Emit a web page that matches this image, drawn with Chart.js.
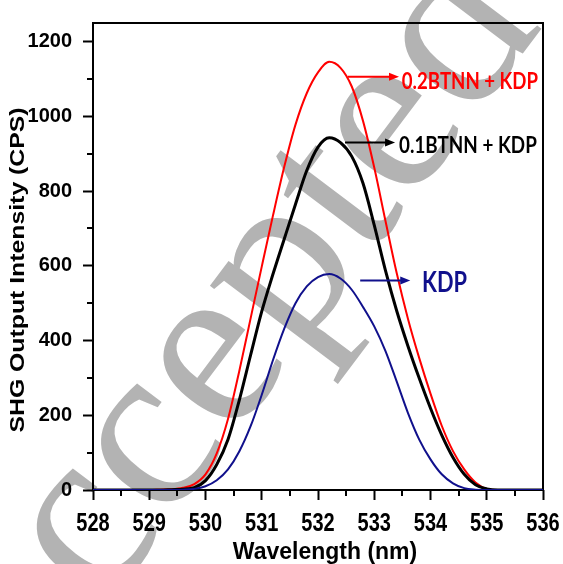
<!DOCTYPE html>
<html><head><meta charset="utf-8">
<script src="https://cdn.jsdelivr.net/npm/chart.js@4.4.1/dist/chart.umd.min.js"></script>
<style>html,body{margin:0;padding:0;background:#fff;overflow:hidden}canvas{display:block}</style>
</head><body>
<canvas id="c" width="563" height="564"></canvas>
<script>
// ---- data ----
const wavelengths = [528, 529.0, 529.2, 529.4, 529.6, 529.8, 530.0, 530.2, 530.4, 530.6, 530.8, 531.0, 531.2, 531.4, 531.6, 531.8, 532.0, 532.2, 532.4, 532.6, 532.8, 533.0, 533.2, 533.4, 533.6, 533.8, 534.0, 534.2, 534.4, 534.6, 534.8, 535.0, 535.2, 535.4, 536];
const intensity02BTNN = [0, 0, 1, 2, 6, 16, 42, 98, 190, 318, 458, 598, 735, 865, 978, 1062, 1118, 1146, 1130, 1080, 988, 863, 720, 580, 458, 353, 258, 172, 104, 55, 20, 3, 0, 0, 0];
const intensity01BTNN = [0, 0, 0, 1, 2, 6, 25, 68, 135, 240, 360, 478, 578, 672, 765, 855, 918, 943, 930, 893, 821, 709, 587, 479, 385, 299, 219, 147, 87, 42, 14, 3, 0, 0, 0];
const intensityKDP    = [0, 0, 0, 0, 1, 3, 10, 26, 55, 103, 170, 255, 348, 432, 500, 545, 570, 578, 566, 536, 490, 438, 372, 290, 206, 135, 82, 42, 18, 5, 1, 0, 0, 0, 0];
const seriesLabels = ['0.2BTNN + KDP', '0.1BTNN + KDP', 'KDP'];
const xTickValues = [528, 529, 530, 531, 532, 533, 534, 535, 536];
const yTickValues = [0, 200, 400, 600, 800, 1000, 1200];
const xTitle = 'Wavelength (nm)';
const yTitle = 'SHG Output Intensity (CPS)';
const watermarkText = 'Accepted';

// ---- annotation anchors (data coordinates) ----
const labelAnchors = [
  {i: 0, color: '#ff0000', from: 532.53, to: 533.44, at: 1106, left: 533.49, right: 535.91, base: 1074, size: 23},
  {i: 1, color: '#000000', from: 532.48, to: 533.37, at: 930,  left: 533.44, right: 535.89, base: 901,  size: 22},
  {i: 2, color: '#10108c', from: 532.75, to: 533.64, at: 561,  left: 533.85, right: 534.65, base: 529,  size: 29}
];

const toPts = arr => wavelengths.map((x, k) => ({x: x, y: arr[k]}));

function fitText(ctx, text, left, baseline, width, font) {
  ctx.save();
  ctx.font = font;
  const m = ctx.measureText(text).width;
  ctx.translate(left, baseline);
  ctx.scale(width / m, 1);
  ctx.textAlign = 'left';
  ctx.textBaseline = 'alphabetic';
  ctx.fillText(text, 0, 0);
  ctx.restore();
}

const decor = {
  id: 'decor',
  beforeDraw(chart) {
    const ctx = chart.ctx;
    ctx.save();
    ctx.fillStyle = '#ffffff';
    ctx.fillRect(0, 0, chart.width, chart.height);
    ctx.translate(-2, 750);
    ctx.rotate(-53 * Math.PI / 180);
    ctx.font = '240px "Liberation Serif"';
    ctx.fillStyle = '#b3b3b3';
    ctx.textBaseline = 'alphabetic';
    ctx.fillText(watermarkText, 0, 0);
    ctx.restore();
  },
  beforeDatasetsDraw(chart) {
    const ctx = chart.ctx, a = chart.chartArea;
    const xs = chart.scales.x, ys = chart.scales.y;
    ctx.save();
    ctx.strokeStyle = '#000';
    ctx.lineWidth = 2;
    ctx.strokeRect(a.left, a.top, a.right - a.left, a.bottom - a.top);
    ctx.beginPath();
    for (let v = 100; v < 1250; v += 200) {
      const py = Math.round(ys.getPixelForValue(v));
      ctx.moveTo(a.left - 6, py); ctx.lineTo(a.left, py);
    }
    for (let v = 528.5; v < 536; v += 1) {
      const px = Math.round(xs.getPixelForValue(v));
      ctx.moveTo(px, a.bottom); ctx.lineTo(px, a.bottom + 6);
    }
    ctx.stroke();
    ctx.restore();
  },
  afterDraw(chart) {
    const ctx = chart.ctx;
    const xs = chart.scales.x, ys = chart.scales.y;
    ctx.save();
    ctx.fillStyle = '#000';
    ctx.font = 'bold 20px "Liberation Sans"';
    ctx.textAlign = 'center';
    ctx.textBaseline = 'alphabetic';
    xs.ticks.forEach(t => {
      const px = xs.getPixelForValue(t.value);
      ctx.save();
      ctx.translate(px, 531);
      ctx.scale(1, 1.25);
      ctx.fillText(String(t.value), 0, 0);
      ctx.restore();
    });
    ctx.font = 'bold 23px "Liberation Sans"';
    ctx.fillText(xTitle, 325, 559);
    ctx.save();
    ctx.translate(24, 270);
    ctx.rotate(-Math.PI / 2);
    ctx.scale(1.24, 1);
    ctx.font = 'bold 20px "Liberation Sans"';
    ctx.textAlign = 'center';
    ctx.fillText(yTitle, 0, 0);
    ctx.restore();
    labelAnchors.forEach(L => {
      const x1 = xs.getPixelForValue(L.from), x2 = xs.getPixelForValue(L.to);
      const y = ys.getPixelForValue(L.at);
      ctx.strokeStyle = L.color; ctx.fillStyle = L.color;
      ctx.lineWidth = 2;
      ctx.beginPath(); ctx.moveTo(x1, y); ctx.lineTo(x2 - 8, y); ctx.stroke();
      ctx.beginPath(); ctx.moveTo(x2, y); ctx.lineTo(x2 - 10, y - 4); ctx.lineTo(x2 - 10, y + 4); ctx.closePath(); ctx.fill();
      const tl = xs.getPixelForValue(L.left), tr = xs.getPixelForValue(L.right);
      fitText(ctx, seriesLabels[L.i], tl, ys.getPixelForValue(L.base), tr - tl, 'bold ' + L.size + 'px Lato');
    });
    ctx.restore();
  }
};

new Chart(document.getElementById('c'), {
  type: 'line',
  data: {
    datasets: [
      {label: seriesLabels[0], data: toPts(intensity02BTNN), borderColor: '#ff0000', borderWidth: 2, order: 2},
      {label: seriesLabels[1], data: toPts(intensity01BTNN), borderColor: '#000000', borderWidth: 3, order: 1},
      {label: seriesLabels[2], data: toPts(intensityKDP), borderColor: '#10108c', borderWidth: 2, order: 0}
    ]
  },
  options: {
    responsive: false,
    animation: false,
    devicePixelRatio: 1,
    layout: {padding: {top: 13, right: 20, left: 0, bottom: 0}},
    elements: {point: {radius: 0}, line: {cubicInterpolationMode: 'monotone', fill: false}},
    plugins: {legend: {display: false}, tooltip: {enabled: false}, title: {display: false}},
    scales: {
      x: {
        type: 'linear', min: 528, max: 536,
        afterBuildTicks: s => { s.ticks = xTickValues.map(v => ({value: v})); },
        afterFit: s => { s.height = 74; },
        ticks: {display: false},
        grid: {display: true, drawOnChartArea: false, drawTicks: true, tickLength: 10, tickWidth: 2, tickColor: '#000'},
        border: {display: false},
        title: {display: false}
      },
      y: {
        type: 'linear', min: 0, max: 1250,
        afterBuildTicks: s => { s.ticks = yTickValues.map(v => ({value: v})); },
        afterFit: s => { s.width = 93; },
        ticks: {color: '#000', padding: 11, callback: v => String(v), font: {family: '"Liberation Sans"', size: 20, weight: 'bold'}},
        grid: {display: true, drawOnChartArea: false, drawTicks: true, tickLength: 10, tickWidth: 2, tickColor: '#000'},
        border: {display: false},
        title: {display: false}
      }
    }
  },
  plugins: [decor]
});
</script>
</body></html>
